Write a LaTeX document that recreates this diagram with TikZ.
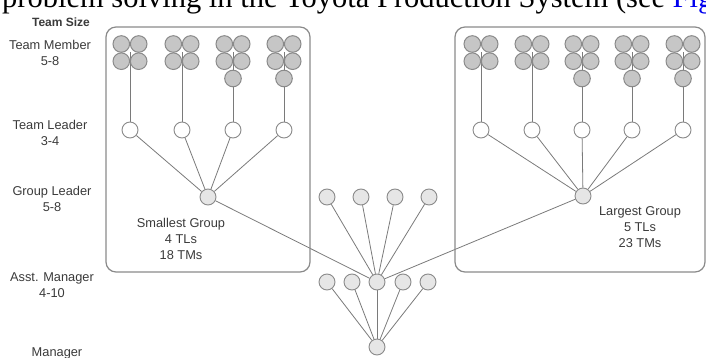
\documentclass[tikz,border=0pt]{standalone}
\usepackage{fontspec}
\setmainfont{Liberation Serif}
\newfontfamily\lab{Liberation Sans}
\usetikzlibrary{backgrounds}
\definecolor{cstroke}{HTML}{8A8A8A}
\definecolor{tmfill}{HTML}{C6C6C6}
\definecolor{lfill}{HTML}{E6E6E6}
\definecolor{lgray}{HTML}{7A7A7A}
\definecolor{txt}{HTML}{3A3A3A}
\definecolor{linkblue}{HTML}{0000EE}
\begin{document}
\begin{tikzpicture}[x=1pt,y=-1pt,
  tm/.style={circle,draw=cstroke,fill=tmfill,line width=1pt,minimum size=16.6pt,inner sep=0pt},
  tl/.style={circle,draw=cstroke,fill=white,line width=0.9pt,minimum size=16pt,inner sep=0pt},
  gl/.style={circle,draw=cstroke,fill=lfill,line width=0.9pt,minimum size=16pt,inner sep=0pt},
  link/.style={draw=lgray,line width=0.8pt},
  grpbox/.style={draw=cstroke,line width=1.2pt,rounded corners=10pt},
  lbl/.style={font=\lab\fontsize{12.8}{16}\selectfont,text=txt,align=center,inner sep=0pt}]
\useasboundingbox (0,0) rectangle (706,358);
\clip (0,0) rectangle (706,358);

% title line (cut at top)
\node[anchor=base west,inner sep=0pt,font=\fontsize{30.5}{30}\selectfont] (title) at (2,8)
  {problem solving in the Toyota Production System (see \textcolor{linkblue}{Fig})};

% left labels
\node[lbl,font=\lab\bfseries\fontsize{12}{14}\selectfont] (tsize) at (61,22) {Team Size};
\node[lbl] (lTM) at (50,53) {Team Member\\5-8};
\node[lbl] (lTL) at (50,133) {Team Leader\\3-4};
\node[lbl] (lGL) at (52,199) {Group Leader\\5-8};
\node[lbl] (lAM) at (52,285) {Asst. Manager\\4-10};
\node[lbl] (lMG) at (57,353) {Manager};

% group boxes
\draw[grpbox] (106,27) rectangle (310,272);
\draw[grpbox] (455,27) rectangle (705,272);

% team member clusters and team leaders
\foreach \i/\cx/\n in {1/130/4, 2/182/4, 3/233/5, 4/284/5,
                       5/481/4, 6/532/4, 7/582/5, 8/632/5, 9/683/5}{
  \coordinate (c\i) at (\cx,52.5);
  \node[tm] (m\i a) at (\cx-8.7,44) {};
  \node[tm] (m\i b) at (\cx+8.7,44) {};
  \node[tm] (m\i c) at (\cx-8.7,61.2) {};
  \node[tm] (m\i d) at (\cx+8.7,61.2) {};
  \ifnum\n=5 \node[tm] (m\i e) at (\cx,78.5) {};\fi
  \node[tl] (t\i) at (\cx,130) {};
}

% group leaders
\node[gl] (gL) at (208,197) {};
\node[gl] (gR) at (583,196) {};
\node[gl] (g1) at (327,197) {};
\node[gl] (g2) at (361,197) {};
\node[gl] (g3) at (395,197) {};
\node[gl] (g4) at (429,197) {};

% assistant managers and manager
\node[gl] (a1) at (327,282) {};
\node[gl] (a2) at (352,282) {};
\node[gl] (a3) at (377,282) {};
\node[gl] (a4) at (403,282) {};
\node[gl] (a5) at (428,282) {};
\node[gl] (mgr) at (377,347) {};

% group labels
\node[lbl] (small) at (181,239) {Smallest Group\\4 TLs\\18 TMs};
\node[lbl] (large) at (640,227) {Largest Group\\5 TLs\\23 TMs};

\begin{pgfonlayer}{background}
  \foreach \i in {1,...,9}{ \draw[link] (c\i) -- (t\i.north); }
  \foreach \i in {1,...,4}{ \draw[link] (t\i) -- (gL); }
  \foreach \i in {5,...,9}{ \draw[link] (t\i) -- (gR); }
  \foreach \g in {gL,g1,g2,g3,g4,gR}{ \draw[link] (\g) -- (a3); }
  \foreach \a in {a1,a2,a3,a4,a5}{ \draw[link] (\a) -- (mgr); }
\end{pgfonlayer}
\end{tikzpicture}
\end{document}
